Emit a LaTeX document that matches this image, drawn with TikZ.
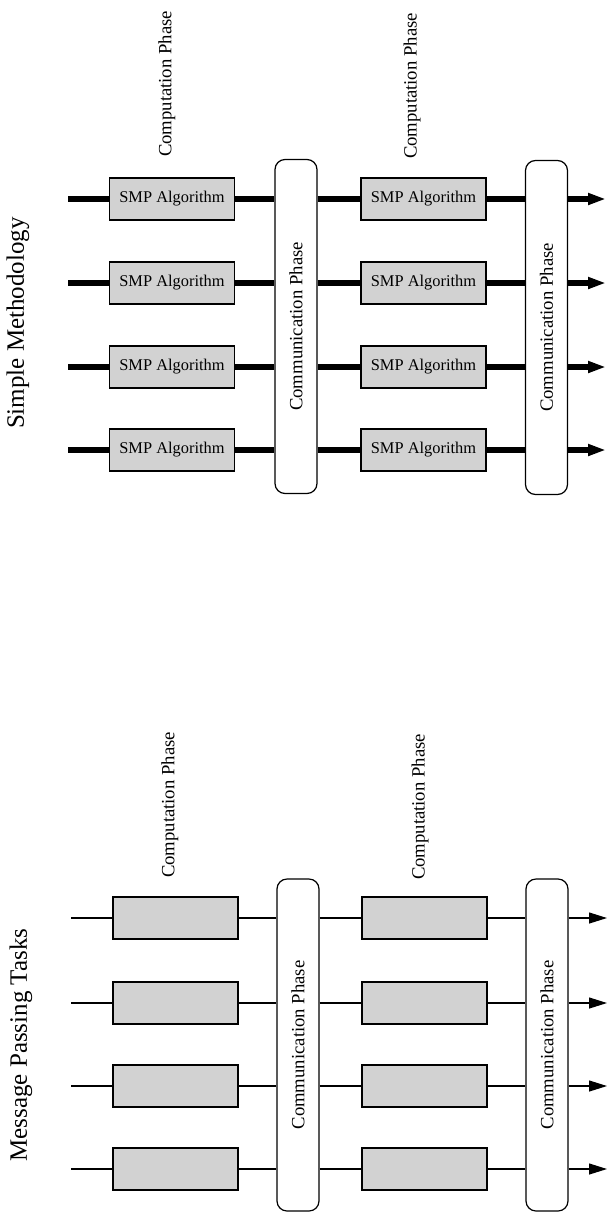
\documentclass[tikz,border=0pt]{standalone}
\usepackage{fontspec}
\setmainfont{Liberation Serif}
\usetikzlibrary{positioning,arrows.meta}

\begin{document}
\begin{tikzpicture}[x=1pt, y=-1pt,
    algo/.style={draw, fill=gray!35, minimum width=125pt, minimum height=42pt, inner sep=0pt, font=\fontsize{16.4}{18}\selectfont},
    comm/.style={draw, line width=1.2pt, rounded corners=10pt, minimum width=42pt, minimum height=334pt, inner sep=0pt},
    phase/.style={rotate=90, inner sep=0pt, font=\fontsize{18.7}{20}\selectfont},
    heading/.style={rotate=90, inner sep=0pt, font=\fontsize{25}{28}\selectfont},
    tip/.style={-{Triangle[length=18pt, width=11pt]}}]
    \useasboundingbox (0,0) rectangle (609,1213);

    % simple methodology
    \node[heading] (smp) at (18,323) {Simple Methodology};
    \node[phase] (compa) at (167,84) {Computation Phase};
    \node[phase] (compb) at (412,86) {Computation Phase};
    \node[comm, label={[phase]center:Communication Phase}] (comma) at (296,326.5) {};
    \node[comm, label={[phase]center:Communication Phase}] (commb) at (546.5,327.5) {};
    \foreach \i/\y in {1/199, 2/283, 3/367, 4/450} {
        \coordinate (ina\i) at (68,\y);
        \node[algo, line width=1.5pt] (alga\i) at (172,\y) {SMP Algorithm};
        \node[algo, line width=1.5pt, right=125pt of alga\i] (algb\i) {SMP Algorithm};
        \coordinate (outa\i) at (606,\y);
        \draw[line width=5.5pt] (ina\i) -- (alga\i);
        \draw[line width=5.5pt] (alga\i) -- (alga\i -| comma.west);
        \draw[line width=5.5pt] (alga\i -| comma.east) -- (algb\i);
        \draw[line width=5.5pt] (algb\i) -- (algb\i -| commb.west);
        \draw[line width=5.5pt, tip] (algb\i -| commb.east) -- (outa\i);
    }

    % message passing tasks
    \node[heading] (mpt) at (21,1045) {Message Passing Tasks};
    \node[phase] (compc) at (170,805) {Computation Phase};
    \node[phase] (compd) at (420,807) {Computation Phase};
    \node[comm, minimum height=332pt, label={[phase]center:Communication Phase}] (commc) at (298,1045) {};
    \node[comm, minimum height=332pt, label={[phase]center:Communication Phase}] (commd) at (547,1045) {};
    \foreach \i/\y in {1/918, 2/1003, 3/1086, 4/1169} {
        \coordinate (inb\i) at (71,\y);
        \node[algo, line width=2pt] (algc\i) at (175,\y) {};
        \node[algo, line width=2pt, right=122pt of algc\i] (algd\i) {};
        \coordinate (outb\i) at (607,\y);
        \draw[line width=1.2pt] (inb\i) -- (algc\i);
        \draw[line width=1.2pt] (algc\i) -- (algc\i -| commc.west);
        \draw[line width=1.2pt] (algc\i -| commc.east) -- (algd\i);
        \draw[line width=1.2pt] (algd\i) -- (algd\i -| commd.west);
        \draw[line width=1.2pt, tip] (algd\i -| commd.east) -- (outb\i);
    }
\end{tikzpicture}
\end{document}
